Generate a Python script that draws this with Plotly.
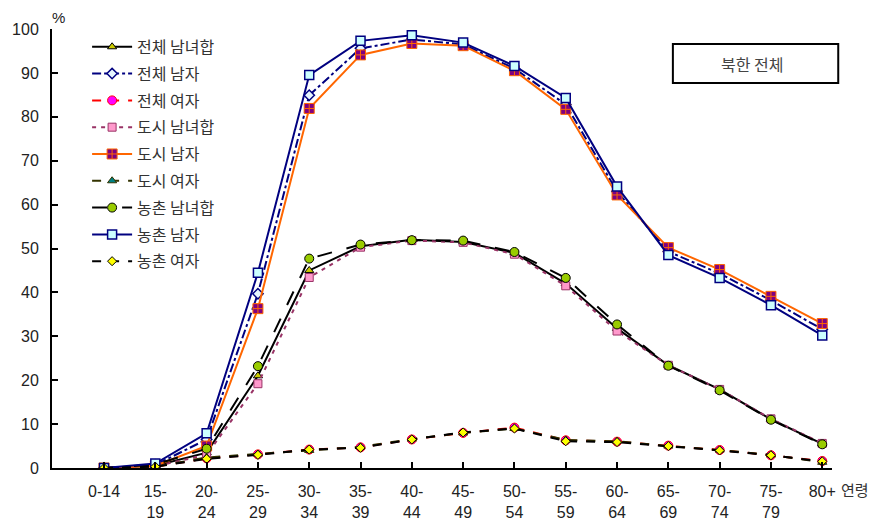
import plotly.graph_objects as go

categories = ["0-14", "15-19", "20-24", "25-29", "30-34", "35-39", "40-44", "45-49",
              "50-54", "55-59", "60-64", "65-69", "70-74", "75-79", "80+"]
tick_labels = ["0-14", "15-<br>19", "20-<br>24", "25-<br>29", "30-<br>34", "35-<br>39",
               "40-<br>44", "45-<br>49", "50-<br>54", "55-<br>59", "60-<br>64", "65-<br>69",
               "70-<br>74", "75-<br>79", "80+"]

tot_both = [0, 0.5, 3.5, 21.0, 45.0, 50.5, 52.0, 51.5, 49.0, 42.0, 31.8, 23.4, 17.9, 11.1, 5.5]
tot_male = [0, 0.7, 6.5, 39.7, 84.9, 95.6, 97.6, 96.5, 91.0, 82.8, 63.0, 49.3, 44.3, 38.2, 31.6]
tot_female = [0, 0.3, 2.2, 3.1, 4.2, 4.7, 6.5, 8.0, 9.2, 6.3, 6.0, 5.1, 4.1, 2.9, 1.6]
urb_both = [0, 0.4, 3.0, 19.2, 43.4, 50.3, 51.8, 51.4, 48.7, 41.5, 31.2, 23.4, 17.9, 11.2, 5.6]
urb_male = [0, 0.5, 5.0, 36.3, 81.9, 94.1, 96.7, 96.2, 90.5, 81.7, 62.2, 50.2, 45.2, 39.1, 32.9]
urb_female = [0, 0.3, 2.4, 3.2, 4.0, 4.8, 6.6, 8.0, 9.0, 6.4, 6.1, 5.0, 4.1, 3.0, 1.3]
rur_both = [0, 0.8, 4.4, 23.2, 47.7, 50.9, 51.9, 51.8, 49.2, 43.3, 32.7, 23.3, 17.7, 11.0, 5.4]
rur_male = [0, 1.0, 7.9, 44.5, 89.5, 97.3, 98.6, 96.9, 91.6, 84.3, 64.1, 48.5, 43.3, 37.1, 30.2]
rur_female = [0, 0.3, 2.1, 3.0, 4.2, 4.6, 6.5, 8.1, 9.0, 6.1, 5.9, 5.0, 4.0, 2.9, 1.5]

series_names = ["전체 남녀합", "전체 남자", "전체 여자", "도시 남녀합", "도시 남자",
                "도시 여자", "농촌 남녀합", "농촌 남자", "농촌 여자"]
series_values = [tot_both, tot_male, tot_female, urb_both, urb_male,
                 urb_female, rur_both, rur_male, rur_female]

styles = [
    dict(line=dict(color="#000000", width=2, dash="solid"),
         marker=dict(symbol="triangle-up", size=8, color="#CCCC00", line=dict(color="#000000", width=1))),
    dict(line=dict(color="#000080", width=2, dash="dashdot"),
         marker=dict(symbol="diamond", size=8, color="#E6F5FF", line=dict(color="#000080", width=1.5))),
    dict(line=dict(color="#FF0000", width=2, dash="dash"),
         marker=dict(symbol="circle", size=9, color="#FF00FF", line=dict(color="#FF0000", width=1))),
    dict(line=dict(color="#993366", width=2, dash="4px,5px"),
         marker=dict(symbol="square", size=8, color="#FF99CC", line=dict(color="#993366", width=1))),
    dict(line=dict(color="#FF6600", width=2, dash="solid"),
         marker=dict(symbol="square-cross", size=10, color="#800080", line=dict(color="#FF6600", width=1))),
    dict(line=dict(color="#333300", width=2, dash="dash"),
         marker=dict(symbol="triangle-up", size=8, color="#008080", line=dict(color="#333300", width=1))),
    dict(line=dict(color="#000000", width=2, dash="longdash"),
         marker=dict(symbol="circle", size=9, color="#99CC00", line=dict(color="#000000", width=1))),
    dict(line=dict(color="#000080", width=2, dash="solid"),
         marker=dict(symbol="square", size=9, color="#CCFFFF", line=dict(color="#000080", width=1.5))),
    dict(line=dict(color="#000000", width=2, dash="dash"),
         marker=dict(symbol="diamond", size=7, color="#FFFF00", line=dict(color="#000000", width=1))),
]

fig = go.Figure()
for i, (name, vals, st) in enumerate(zip(series_names, series_values, styles)):
    fig.add_trace(go.Scatter(x=categories, y=vals, name=name, mode="lines+markers",
                             legendgroup=f"g{i}", line=st["line"], marker=st["marker"]))

fig.update_layout(
    width=872, height=517,
    margin=dict(l=44, r=48, t=21, b=57),
    paper_bgcolor="white", plot_bgcolor="white",
    font=dict(family="Liberation Sans, Arial, sans-serif", size=16, color="#222222"),
    showlegend=True,
    legend=dict(x=0.045, y=0.998, xanchor="left", yanchor="top", bgcolor="rgba(0,0,0,0)",
                font=dict(family="Noto Sans CJK KR", size=16, color="#333333"),
                tracegroupgap=3, itemwidth=40),
    xaxis=dict(type="category", range=[-1.014, 14.19], tickmode="array",
               tickvals=categories, ticktext=tick_labels, showgrid=False, zeroline=False,
               showline=True, linecolor="#000000", linewidth=2, ticks="inside", ticklen=6,
               tickwidth=1.5, tickcolor="#000000", ticklabelstandoff=8, automargin=False),
    yaxis=dict(range=[0, 100], dtick=10, showgrid=False, zeroline=False,
               showline=True, linecolor="#000000", linewidth=2, ticks="inside", ticklen=6,
               tickwidth=1.5, tickcolor="#000000", ticklabelstandoff=8, automargin=False),
    annotations=[
        dict(text="%", x=0.008, y=1.027, xref="paper", yref="paper", showarrow=False,
             font=dict(size=15, color="#222222"), xanchor="center", yanchor="middle"),
        dict(text="연령", x=1.03, y=-0.05, xref="paper", yref="paper", showarrow=False,
             font=dict(family="Noto Sans CJK KR", size=15, color="#333333"), xanchor="center", yanchor="middle"),
        dict(text="북한 전체", x=0.8968, y=0.920, xref="paper", yref="paper", showarrow=False,
             font=dict(family="Noto Sans CJK KR", size=16, color="#444444"), xanchor="center", yanchor="middle"),
    ],
    shapes=[
        dict(type="rect", xref="paper", yref="paper", x0=0.796, x1=1.008, y0=0.877, y1=0.966,
             line=dict(color="#000000", width=2), fillcolor="rgba(0,0,0,0)"),
    ],
)

fig.write_html("out.html")
